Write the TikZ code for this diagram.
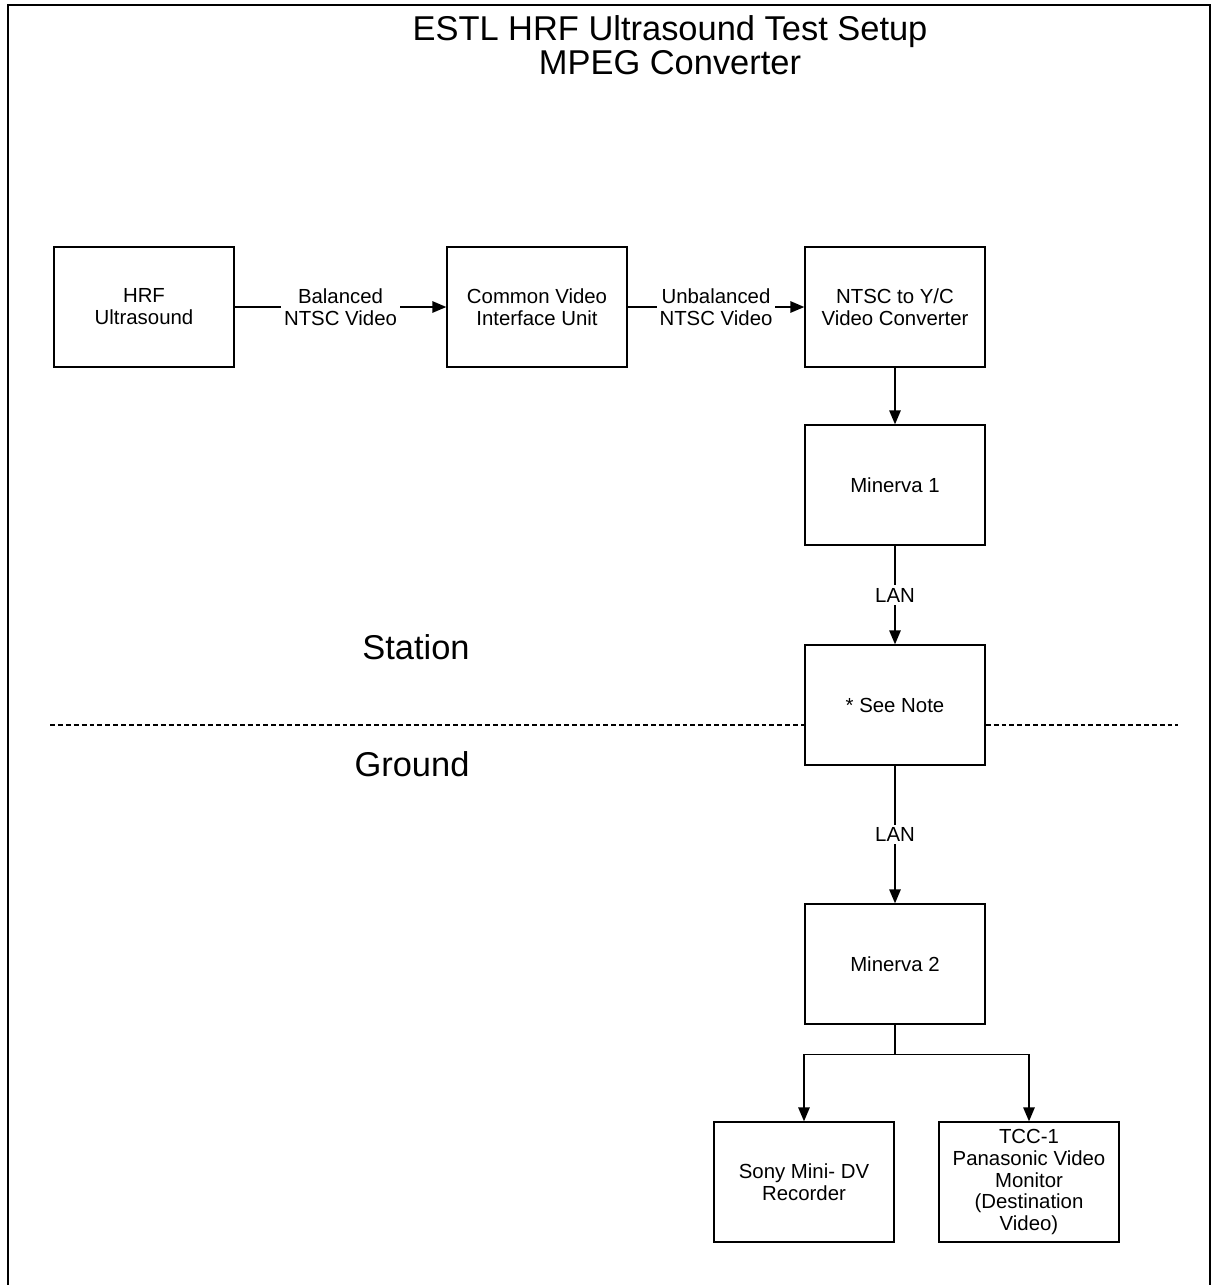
\documentclass[tikz,border=0pt]{standalone}
\usepackage{fontspec}
\setmainfont{Liberation Sans}
\usetikzlibrary{positioning}
\usetikzlibrary{arrows.meta}

\begin{document}
\begin{tikzpicture}[x=0.02cm,y=-0.02cm,
    unit/.style={draw,line width=0.8pt,minimum width=3.6cm,minimum height=2.4cm,inner sep=2pt,align=center,font=\fontsize{11.6}{12.5}\selectfont},
    flow/.style={line width=0.8pt,-{Triangle[length=0.28cm,width=0.23cm]}},
    tag/.style={fill=white,align=center,inner sep=1.5pt,font=\fontsize{11.6}{12.5}\selectfont},
    side/.style={font=\fontsize{19.6}{21}\selectfont},
    divide/.style={line width=0.6pt,dash pattern=on 2.8pt off 1.7pt}]
\useasboundingbox (0,0) rectangle (1217,1285);
\draw[line width=0.8pt] (8,1285) -- (8,5) -- (1210,5) -- (1210,1285);

\node[align=center,font=\fontsize{19.6}{19.4}\selectfont] (head) at (670,45) {ESTL HRF Ultrasound Test Setup\\MPEG Converter};

\node[unit] (hrf) at (144,307) {HRF\\Ultrasound};
\node[unit] (cviu) at (537,307) {Common Video\\Interface Unit};
\node[unit] (conv) at (895,307) {NTSC to Y/C\\Video Converter};
\node[unit] (min1) at (895,485) {Minerva 1};
\node[unit] (note) at (895,705) {* See Note};
\node[unit] (min2) at (895,964) {Minerva 2};
\node[unit] (sony) at (804,1182) {Sony Mini- DV\\Recorder};
\node[unit] (tcc) at (1029,1182) {TCC-1\\Panasonic Video\\Monitor\\(Destination\\Video)};

\node[side] (station) at (416,647) {Station};
\node[side] (ground) at (412,764) {Ground};

% station / ground split
\coordinate (sl) at (50,725);
\coordinate (sr) at (1178,725);
\draw[divide] (sl) -- (sl -| note.west);
\draw[divide] (note.east |- sr) -- (sr);

\draw[flow] (hrf) -- node[tag] {Balanced\\NTSC Video} (cviu);
\draw[flow] (cviu) -- node[tag] {Unbalanced\\NTSC Video} (conv);
\draw[flow] (conv) -- (min1);
\draw[flow] (min1) -- node[tag] {LAN} (note);
\draw[flow] (note) -- node[tag] {LAN} (min2);

\draw[line width=0.8pt] (min2.south) -- ++(0,30) coordinate (fork);
\draw[flow] (fork) -| (sony.north);
\draw[flow] (fork) -| (tcc.north);
\end{tikzpicture}
\end{document}
